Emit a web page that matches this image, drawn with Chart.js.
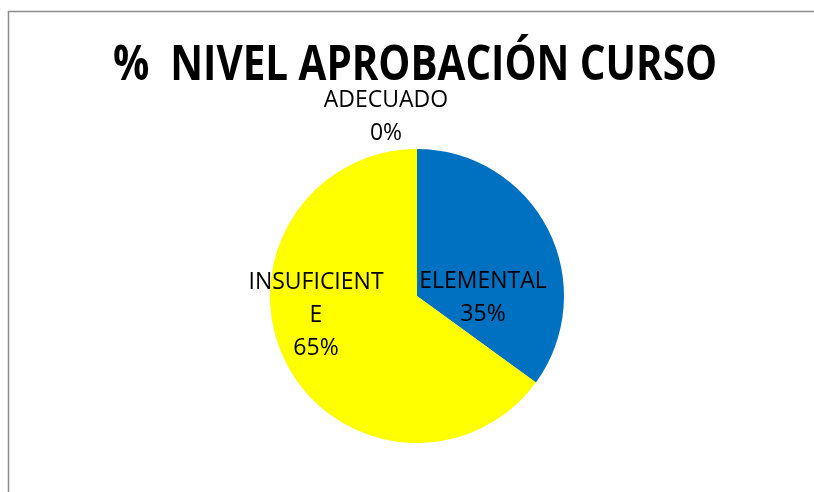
<!DOCTYPE html>
<html>
<head>
<meta charset="utf-8">
<script src="https://cdn.jsdelivr.net/npm/chart.js@4/dist/chart.umd.min.js"></script>
<style>
  html, body { margin: 0; padding: 0; background: #ffffff; }
  #wrap { width: 814px; height: 492px; position: relative; }
</style>
</head>
<body>
<div id="wrap"><canvas id="chart" width="814" height="492"></canvas></div>
<script>
// Course approval levels (percent of students)
const chartTitle = '%  NIVEL APROBACIÓN CURSO';
const categories = ['ADECUADO', 'ELEMENTAL', 'INSUFICIENTE'];
const categoryLines = [['ADECUADO'], ['ELEMENTAL'], ['INSUFICIENT', 'E']];
const values = [0, 35, 65];
const sliceColors = ['#4F81BD', '#0070C0', '#FFFF00'];

// Label anchors, relative to the pie centre in units of its radius
const labelAnchors = [[-0.211, -1.226], [0.449, 0.002], [-0.687, 0.120]];

const labelFont = '23px "Open Sans", "Noto Sans", sans-serif';
const lineStep = 33;
const capHalf = 8;

const frame = {
  id: 'frame',
  beforeDraw(chart) {
    const ctx = chart.ctx;
    ctx.save();
    ctx.strokeStyle = '#8c8c8c';
    ctx.lineWidth = 1.5;
    ctx.beginPath();
    ctx.moveTo(8.5, 1000);
    ctx.lineTo(8.5, 11.5);
    ctx.lineTo(1000, 11.5);
    ctx.stroke();
    ctx.restore();
  }
};

const titleDraw = {
  id: 'titleDraw',
  afterDraw(chart) {
    const ctx = chart.ctx;
    ctx.save();
    ctx.font = 'bold 48px "Open Sans", "Noto Sans", sans-serif';
    ctx.fillStyle = '#000000';
    ctx.textBaseline = 'alphabetic';
    const w = ctx.measureText(chartTitle).width;
    const targetW = 604;
    ctx.translate(415, 80);
    ctx.scale(targetW / w, 1);
    ctx.textAlign = 'center';
    ctx.fillText(chartTitle, 0, 0);
    ctx.restore();
  }
};

const sliceLabels = {
  id: 'sliceLabels',
  afterDraw(chart) {
    const ctx = chart.ctx;
    const meta = chart.getDatasetMeta(0);
    const total = values.reduce((a, b) => a + b, 0);
    ctx.save();
    ctx.font = labelFont;
    ctx.fillStyle = '#000000';
    ctx.textAlign = 'center';
    ctx.textBaseline = 'alphabetic';
    meta.data.forEach((arc, i) => {
      const r = arc.outerRadius;
      const cx = arc.x + labelAnchors[i][0] * r;
      const cy = arc.y + labelAnchors[i][1] * r;
      const lines = categoryLines[i].concat([Math.round(values[i] / total * 100) + '%']);
      lines.forEach((t, k) => {
        const y = cy + (k - (lines.length - 1) / 2) * lineStep + capHalf;
        ctx.fillText(t, cx, y);
      });
    });
    ctx.restore();
  }
};

new Chart(document.getElementById('chart'), {
  type: 'pie',
  data: {
    labels: categories,
    datasets: [{
      data: values,
      backgroundColor: sliceColors,
      borderWidth: 0,
      hoverBorderWidth: 0,
      hoverOffset: 0,
      offset: 0
    }]
  },
  options: {
    responsive: false,
    animation: false,
    events: [],
    layout: { padding: { top: 149, bottom: 49, left: 20, right: 0 } },
    plugins: {
      legend: { display: false },
      tooltip: { enabled: false },
      title: { display: false }
    }
  },
  plugins: [frame, titleDraw, sliceLabels]
});
</script>
</body>
</html>
